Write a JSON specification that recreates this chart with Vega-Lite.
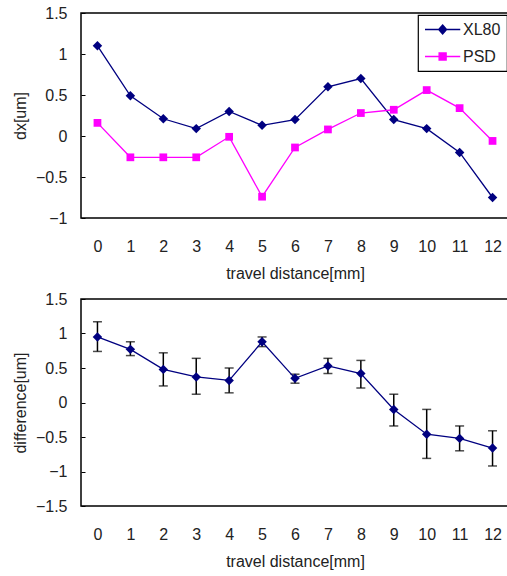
{
  "$schema": "https://vega.github.io/schema/vega-lite/v6.json",
  "padding": {"left": 11, "top": 4, "right": 0, "bottom": 0},
  "spacing": 8,
  "background": "white",
  "config": {
    "font": "Liberation Sans",
    "view": {"stroke": "#000000", "strokeWidth": 1.5},
    "axis": {"grid": false, "domain": false, "labelFont": "Liberation Sans", "titleFont": "Liberation Sans", "labelFontSize": 16, "titleFontSize": 16, "titleFontWeight": "normal", "labelColor": "#222222", "titleColor": "#222222", "labelOverlap": false},
    "axisX": {"ticks": false, "labelAngle": 0, "labelPadding": 20, "titlePadding": 11},
    "axisY": {"ticks": true, "tickSize": -4, "tickColor": "#000000", "labelPadding": 18, "titlePadding": 7}
  },
  "datasets": {
    "top": [
      {"distance": 0, "series": "XL80", "dx": 1.10},
      {"distance": 1, "series": "XL80", "dx": 0.49},
      {"distance": 2, "series": "XL80", "dx": 0.21},
      {"distance": 3, "series": "XL80", "dx": 0.09},
      {"distance": 4, "series": "XL80", "dx": 0.30},
      {"distance": 5, "series": "XL80", "dx": 0.13},
      {"distance": 6, "series": "XL80", "dx": 0.20},
      {"distance": 7, "series": "XL80", "dx": 0.60},
      {"distance": 8, "series": "XL80", "dx": 0.70},
      {"distance": 9, "series": "XL80", "dx": 0.20},
      {"distance": 10, "series": "XL80", "dx": 0.09},
      {"distance": 11, "series": "XL80", "dx": -0.20},
      {"distance": 12, "series": "XL80", "dx": -0.75},
      {"distance": 0, "series": "PSD", "dx": 0.16},
      {"distance": 1, "series": "PSD", "dx": -0.26},
      {"distance": 2, "series": "PSD", "dx": -0.26},
      {"distance": 3, "series": "PSD", "dx": -0.26},
      {"distance": 4, "series": "PSD", "dx": -0.01},
      {"distance": 5, "series": "PSD", "dx": -0.74},
      {"distance": 6, "series": "PSD", "dx": -0.14},
      {"distance": 7, "series": "PSD", "dx": 0.08},
      {"distance": 8, "series": "PSD", "dx": 0.28},
      {"distance": 9, "series": "PSD", "dx": 0.32},
      {"distance": 10, "series": "PSD", "dx": 0.56},
      {"distance": 11, "series": "PSD", "dx": 0.34},
      {"distance": 12, "series": "PSD", "dx": -0.06}
    ],
    "bottom": [
      {"distance": 0, "difference": 0.95, "lower": 0.74, "upper": 1.17},
      {"distance": 1, "difference": 0.77, "lower": 0.68, "upper": 0.88},
      {"distance": 2, "difference": 0.48, "lower": 0.24, "upper": 0.72},
      {"distance": 3, "difference": 0.37, "lower": 0.12, "upper": 0.64},
      {"distance": 4, "difference": 0.32, "lower": 0.14, "upper": 0.50},
      {"distance": 5, "difference": 0.88, "lower": 0.81, "upper": 0.95},
      {"distance": 6, "difference": 0.35, "lower": 0.28, "upper": 0.41},
      {"distance": 7, "difference": 0.53, "lower": 0.42, "upper": 0.64},
      {"distance": 8, "difference": 0.42, "lower": 0.21, "upper": 0.61},
      {"distance": 9, "difference": -0.10, "lower": -0.34, "upper": 0.12},
      {"distance": 10, "difference": -0.46, "lower": -0.81, "upper": -0.10},
      {"distance": 11, "difference": -0.52, "lower": -0.70, "upper": -0.34},
      {"distance": 12, "difference": -0.66, "lower": -0.92, "upper": -0.41}
    ]
  },
  "resolve": {"scale": {"x": "independent", "y": "independent"}},
  "vconcat": [
    {
      "width": 428,
      "height": 205,
      "data": {"name": "top"},
      "encoding": {
        "x": {"field": "distance", "type": "ordinal", "scale": {"type": "point", "padding": 0.5}, "axis": {"title": "travel distance[mm]"}},
        "y": {"field": "dx", "type": "quantitative", "scale": {"domain": [-1, 1.5], "nice": false, "zero": false}, "axis": {"title": "dx[um]", "values": [-1, -0.5, 0, 0.5, 1, 1.5], "format": "~g"}},
        "color": {"field": "series", "type": "nominal", "scale": {"domain": ["XL80", "PSD"], "range": ["#000080", "#FF00FF"]},
          "legend": {
            "orient": "none", "legendX": 337, "legendY": 2,
            "title": null, "strokeColor": "#000000", "fillColor": "#FFFFFF",
            "padding": 6, "rowPadding": 10, "symbolSize": 225, "labelOffset": 22,
            "labelFont": "Liberation Sans", "labelFontSize": 16, "labelColor": "#222222",
            "encode": {
              "legend": {"update": {"strokeWidth": {"value": 1.2}}},
              "symbols": {"update": {
                "shape": {"signal": "datum.value === 'XL80' ? 'M-1,0H3.7M1.35,-0.6L1.88,0L1.35,0.6L0.82,0Z' : 'M-1,0H3.7M0.88,-0.47H1.82V0.47H0.88Z'"},
                "fill": {"signal": "datum.value === 'XL80' ? '#000080' : '#FF00FF'"},
                "stroke": {"signal": "datum.value === 'XL80' ? '#000080' : '#FF00FF'"},
                "strokeWidth": {"value": 1.3},
                "opacity": {"value": 1}
              }}
            }
          }
        }
      },
      "layer": [
        {"mark": {"type": "line", "strokeWidth": 1.3}},
        {
          "transform": [{"filter": "datum.series === 'XL80'"}],
          "mark": {"type": "point", "shape": "diamond", "size": 90, "filled": true, "opacity": 1}
        },
        {
          "transform": [{"filter": "datum.series === 'PSD'"}],
          "mark": {"type": "point", "shape": "square", "size": 60, "filled": true, "opacity": 1}
        }
      ]
    },
    {
      "width": 428,
      "height": 207,
      "data": {"name": "bottom"},
      "encoding": {
        "x": {"field": "distance", "type": "ordinal", "scale": {"type": "point", "padding": 0.5}, "axis": {"title": "travel distance[mm]"}}
      },
      "layer": [
        {"mark": {"type": "rule", "color": "#000000", "strokeWidth": 1.5}, "encoding": {"y": {"field": "lower", "type": "quantitative", "scale": {"domain": [-1.5, 1.5], "nice": false, "zero": false}, "axis": {"title": "difference[um]", "values": [-1.5, -1, -0.5, 0, 0.5, 1, 1.5], "format": "~g", "labelOverlap": false}}, "y2": {"field": "upper"}}},
        {"mark": {"type": "tick", "color": "#000000", "size": 9, "thickness": 1.5, "orient": "horizontal"}, "encoding": {"y": {"field": "lower", "type": "quantitative", "axis": {"title": "difference[um]", "values": [-1.5, -1, -0.5, 0, 0.5, 1, 1.5], "format": "~g", "labelOverlap": false}}}},
        {"mark": {"type": "tick", "color": "#000000", "size": 9, "thickness": 1.5, "orient": "horizontal"}, "encoding": {"y": {"field": "upper", "type": "quantitative", "axis": {"title": "difference[um]", "values": [-1.5, -1, -0.5, 0, 0.5, 1, 1.5], "format": "~g", "labelOverlap": false}}}},
        {"mark": {"type": "line", "color": "#000080", "strokeWidth": 1.3}, "encoding": {"y": {"field": "difference", "type": "quantitative", "axis": {"title": "difference[um]", "values": [-1.5, -1, -0.5, 0, 0.5, 1, 1.5], "format": "~g", "labelOverlap": false}}}},
        {"mark": {"type": "point", "shape": "diamond", "filled": true, "opacity": 1, "size": 90, "color": "#000080"}, "encoding": {"y": {"field": "difference", "type": "quantitative", "axis": {"title": "difference[um]", "values": [-1.5, -1, -0.5, 0, 0.5, 1, 1.5], "format": "~g", "labelOverlap": false}}}}
      ]
    }
  ]
}
